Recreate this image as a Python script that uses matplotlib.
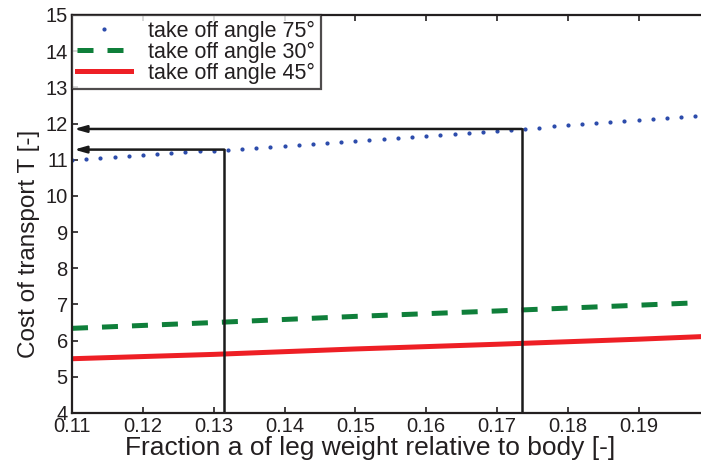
import matplotlib
matplotlib.use("Agg")
import matplotlib.pyplot as plt

# ---- data ----
x75 = [0.110, 0.112, 0.114, 0.116, 0.118, 0.120, 0.122, 0.124, 0.126, 0.128,
       0.130, 0.132, 0.134, 0.136, 0.138, 0.140, 0.142, 0.144, 0.146, 0.148,
       0.150, 0.152, 0.154, 0.156, 0.158, 0.160, 0.162, 0.164, 0.166, 0.168,
       0.170, 0.172, 0.174, 0.176, 0.178, 0.180, 0.182, 0.184, 0.186, 0.188,
       0.190, 0.192, 0.194, 0.196, 0.198]
y75 = [11.00, 11.03, 11.05, 11.08, 11.10, 11.13, 11.15, 11.18, 11.20, 11.23,
       11.25, 11.28, 11.31, 11.33, 11.36, 11.39, 11.41, 11.44, 11.47, 11.50,
       11.52, 11.55, 11.58, 11.61, 11.63, 11.66, 11.69, 11.72, 11.75, 11.77,
       11.80, 11.83, 11.86, 11.89, 11.92, 11.95, 11.98, 12.01, 12.04, 12.07,
       12.09, 12.12, 12.15, 12.18, 12.21]
x_lines = [0.11, 0.13, 0.15, 0.17, 0.19, 0.20]
y30 = [6.34, 6.50, 6.67, 6.82, 6.98, 7.06]
y45 = [5.50, 5.62, 5.77, 5.90, 6.04, 6.12]
sel_x = [0.1315, 0.1735]
sel_y = [11.28, 11.85]
labels = ["take off angle 75°", "take off angle 30°", "take off angle 45°"]

TXT = "#231f20"
plt.rcParams['font.family'] = ['Liberation Sans', 'DejaVu Sans']

fig = plt.figure(figsize=(7.01, 4.70), dpi=100)
ax = fig.add_axes([72/701, 1 - 413/470, 1 - 72/701, (413 - 15)/470])

ax.plot(x75, y75, linestyle='none', marker='.', markersize=4,
        color='#2b4bab', label=labels[0])
ax.plot(x_lines, y30, linestyle=(0, (3.2, 2.8)), linewidth=3.6,
        color='#0f7f3a', label=labels[1])
ax.plot(x_lines, y45, linestyle='-', linewidth=3.6,
        color='#ee1f25', label=labels[2])

for sx, sy in zip(sel_x, sel_y):
    ax.plot([sx, sx], [4, sy], color='#1a1a1a', linewidth=1.8)
    ax.annotate("", xy=(0.1103, sy), xytext=(sx, sy),
                arrowprops=dict(arrowstyle='-|>,head_length=0.7,head_width=0.2',
                                color='#1a1a1a', linewidth=1.8,
                                shrinkA=0, shrinkB=0))

ax.set_xlim(0.11, 0.1988)
ax.set_ylim(4, 15)
ax.set_xticks([0.11, 0.12, 0.13, 0.14, 0.15, 0.16, 0.17, 0.18, 0.19])
ax.set_xticklabels(["0.11", "0.12", "0.13", "0.14", "0.15", "0.16", "0.17", "0.18", "0.19"])
ax.set_yticks(range(4, 16))

ax.tick_params(direction='in', length=4, width=1.2, colors=TXT,
               labelsize=14.5, top=True, right=False)
ax.tick_params(axis='x', pad=3)
ax.tick_params(axis='y', pad=3)
for side in ['left', 'bottom', 'top']:
    ax.spines[side].set_color(TXT)
    ax.spines[side].set_linewidth(1.6)
ax.spines['right'].set_visible(False)

ax.set_xlabel("Fraction a of leg weight relative to body [-]", fontsize=19,
              color=TXT)
ax.xaxis.set_label_coords((370 - 72) / 629, (413 - 436) / 398)
ax.set_ylabel("Cost of transport T [-]", fontsize=17.5, color=TXT)
ax.yaxis.set_label_coords((40 - 72) / 629, (413 - 244) / 398)

leg = ax.legend(loc='upper left', fontsize=15.5, numpoints=1, frameon=True,
                fancybox=False, borderaxespad=0, handlelength=2.5,
                borderpad=0.25, labelspacing=0.0, handletextpad=0.8)
leg.get_frame().set_edgecolor(TXT)
leg.get_frame().set_linewidth(1.6)
for t in leg.get_texts():
    t.set_color(TXT)

fig.savefig("out.png", dpi=100)
